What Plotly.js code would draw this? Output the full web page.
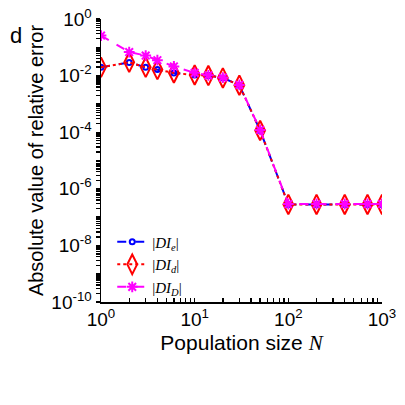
<!DOCTYPE html>
<html>
<head>
<meta charset="utf-8">
<script src="https://cdn.plot.ly/plotly-3.0.1.min.js"></script>
<style>html,body{margin:0;padding:0;background:#fff;}#chart{width:405px;height:405px;}</style>
</head>
<body>
<div id="chart"></div>
<script>
const popSize = [1, 2, 3, 4, 6, 10, 14, 20, 30, 50, 100, 200, 400, 700, 1000];
const errDIe = [0.0196, 0.0290, 0.0196, 0.0163, 0.0124, 0.0105, 0.0100, 0.0083, 0.0046, 1.15e-4, 2.8e-7, 2.8e-7, 2.8e-7, 2.8e-7, 2.8e-7];
const errDId = [0.0196, 0.0295, 0.0196, 0.0163, 0.0124, 0.0105, 0.0100, 0.0083, 0.0046, 1.15e-4, 2.8e-7, 2.8e-7, 2.8e-7, 2.8e-7, 2.8e-7];
const errDID = [0.26, 0.068, 0.051, 0.035, 0.021, 0.0125, 0.0102, 0.0085, 0.0047, 1.2e-4, 2.9e-7, 2.9e-7, 2.9e-7, 2.9e-7, 2.9e-7];
const seriesNames = ['|<i>DI<sub>e</sub></i>|', '|<i>DI<sub>d</sub></i>|', '|<i>DI<sub>D</sub></i>|'];
const xMajorExp = [0, 1, 2, 3];
const yMajorExp = [0, -2, -4, -6, -8, -10];

// tick positions 1..9 within each decade; labels only at the major decades
function logTicks(lo, hi, majors) {
  const vals = [], text = [];
  for (let e = lo; e <= hi; e++) {
    for (let m = 1; m <= 9; m++) {
      if (e === hi && m > 1) break;
      vals.push(m * Math.pow(10, e));
      text.push(m === 1 && majors.includes(e) ? '10<sup>' + (e < 0 ? '-' : '') + Math.abs(e) + '</sup>' : ' ');
    }
  }
  return {vals, text};
}
const xT = logTicks(0, 3, xMajorExp);
const yT = logTicks(-10, 0, yMajorExp);

const traces = [
  {x: popSize, y: errDIe, name: seriesNames[0], mode: 'lines+markers',
   line: {color: '#0000ff', width: 2, dash: 'dash'},
   marker: {symbol: 'circle-open', size: 5, color: '#0000ff', line: {width: 2}}},
  {x: popSize, y: errDId, name: seriesNames[1], mode: 'lines+markers',
   line: {color: '#ff0000', width: 2, dash: 'dot'},
   marker: {symbol: 'diamond-tall-open', size: 14, color: '#ff0000', line: {width: 2}}},
  {x: popSize, y: errDID, name: seriesNames[2], mode: 'lines+markers',
   line: {color: '#ff00ff', width: 2, dash: 'dash'},
   marker: {symbol: 'asterisk-open', size: 9, color: '#ff00ff', line: {width: 2, color: '#ff00ff'}}}
];

const layout = {
  width: 405, height: 405,
  margin: {l: 101, r: 23, t: 19, b: 103},
  paper_bgcolor: '#fff', plot_bgcolor: '#fff',
  font: {family: 'Liberation Sans, Arial, sans-serif', size: 17, color: '#000'},
  showlegend: true,
  legend: {x: 0.04, y: 0.27, xanchor: 'left', yanchor: 'top', bgcolor: 'rgba(0,0,0,0)',
           font: {family: 'Liberation Serif, Times New Roman, serif', size: 15, color: '#000'},
           tracegroupgap: 0, itemwidth: 30},
  xaxis: {type: 'log', range: [0, 3], tickmode: 'array', tickvals: xT.vals, ticktext: xT.text,
          tickangle: 0,
          ticks: 'inside', ticklen: 4, tickwidth: 1.3, tickcolor: '#000',
          showline: true, linecolor: '#000', linewidth: 1.5, showgrid: false, zeroline: false,
          tickfont: {size: 19},
          title: {text: 'Population size <i><span style="font-family:Liberation Serif">N</span></i>', font: {size: 21}, standoff: 6}},
  yaxis: {type: 'log', range: [-10, 0], tickmode: 'array', tickvals: yT.vals, ticktext: yT.text,
          tickangle: 0,
          ticks: 'outside', ticklen: 4, tickwidth: 1.3, tickcolor: '#000',
          showline: true, linecolor: '#000', linewidth: 1.5, showgrid: false, zeroline: false,
          tickfont: {size: 19},
          title: {text: 'Absolute value of relative error', font: {size: 20}, standoff: 2}},
  annotations: [{text: 'd', xref: 'paper', yref: 'paper', x: -0.33, y: 0.94, xanchor: 'left', yanchor: 'middle',
                 showarrow: false, font: {size: 22, color: '#000'}}]
};

Plotly.newPlot('chart', traces, layout, {displayModeBar: false, staticPlot: true});
</script>
</body>
</html>
